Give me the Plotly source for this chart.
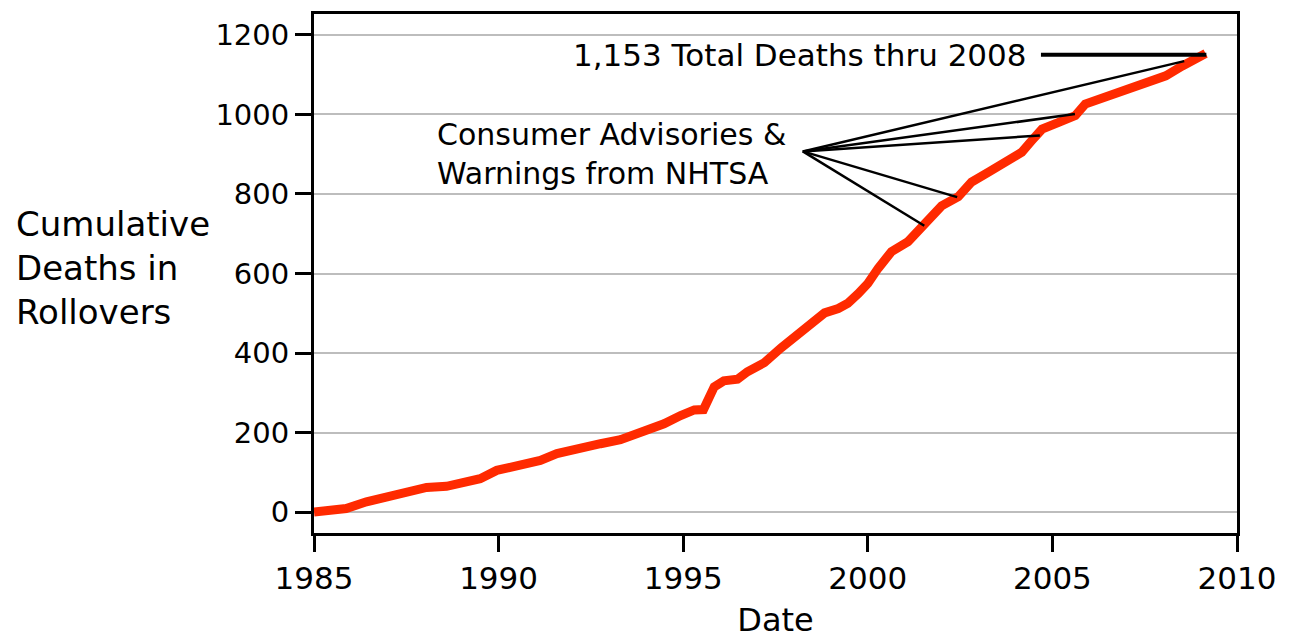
import plotly.graph_objects as go

# Cumulative deaths (decimal year, cumulative count)
years = [1985.0, 1985.4, 1985.87, 1986.42, 1986.96, 1987.69, 1988.05, 1988.59, 1989.14,
         1989.5, 1989.95, 1990.58, 1991.13, 1991.58, 1992.21, 1992.76, 1993.3, 1993.66,
         1994.03, 1994.48, 1994.93, 1995.3, 1995.55, 1995.7, 1995.84, 1996.1, 1996.47,
         1996.74, 1997.2, 1997.65, 1998.1, 1998.55, 1998.83, 1999.2, 1999.46, 1999.75,
         2000.0, 2000.28, 2000.64, 2001.09, 2001.54, 2002.0, 2002.45, 2002.81, 2003.27,
         2003.72, 2004.17, 2004.44, 2004.72, 2005.17, 2005.62, 2005.89, 2006.26, 2006.71,
         2007.16, 2007.61, 2008.07, 2008.52, 2008.97, 2009.15]
deaths = [0, 3, 9, 26, 38, 51, 62, 65, 80,
          84, 105, 117, 130, 147, 163, 172, 182, 193,
          209, 222, 243, 257, 258, 285, 315, 330, 334,
          353, 376, 413, 447, 480, 501, 512, 525, 550,
          575, 613, 655, 680, 724, 770, 793, 830, 855,
          880, 905, 934, 963, 980, 997, 1026, 1038, 1047,
          1063, 1080, 1097, 1122, 1143, 1153]

# NHTSA consumer advisories / warnings (date, cumulative deaths at that date)
advisory_years = [2001.53, 2002.42, 2004.66, 2005.61, 2008.57]
advisory_values = [720, 792, 947, 1001, 1134]
hub_year, hub_value = 1998.24, 907

total_label = "1,153 Total Deaths thru 2008"
total_line_years = [2004.69, 2009.17]
total_line_values = [1150, 1150]

x_ticks = [1985, 1990, 1995, 2000, 2005, 2010]
y_ticks = [0, 200, 400, 600, 800, 1000, 1200]

FONT = "DejaVu Sans"

fig = go.Figure()

fig.add_trace(go.Scatter(
    x=years, y=deaths, mode="lines",
    line=dict(color="#ff2a00", width=9),
    hoverinfo="skip", showlegend=False,
))

lx, ly = [], []
for ax_, ay_ in zip(advisory_years, advisory_values):
    lx += [hub_year, ax_, None]
    ly += [hub_value, ay_, None]
fig.add_trace(go.Scatter(
    x=lx, y=ly, mode="lines",
    line=dict(color="black", width=2.5),
    hoverinfo="skip", showlegend=False,
))
fig.add_trace(go.Scatter(
    x=total_line_years, y=total_line_values, mode="lines",
    line=dict(color="black", width=4),
    hoverinfo="skip", showlegend=False,
))

fig.add_annotation(
    x=2004.36, y=1150, xref="x", yref="y", text=total_label,
    showarrow=False, xanchor="right", yanchor="middle",
    font=dict(family=FONT, size=31, color="black"),
)
fig.add_annotation(
    x=1988.27, y=900, xref="x", yref="y",
    text="Consumer Advisories &<br>Warnings from NHTSA",
    showarrow=False, xanchor="left", yanchor="middle", align="left",
    font=dict(family=FONT, size=30, color="black"),
)
fig.add_annotation(
    x=-0.325, y=0.51, xref="paper", yref="paper",
    text="Cumulative<br>Deaths in<br>Rollovers",
    showarrow=False, xanchor="left", yanchor="middle", align="left",
    font=dict(family=FONT, size=34, color="black"),
)

fig.update_layout(
    width=1293, height=639,
    margin=dict(l=306, r=64, t=3, b=114),
    paper_bgcolor="white", plot_bgcolor="white",
    font=dict(family=FONT, color="black"),
)
fig.update_xaxes(
    range=[1985, 2010], tickvals=x_ticks, ticktext=[str(t) for t in x_ticks],
    showgrid=False, zeroline=False,
    showline=True, linecolor="black", linewidth=3, mirror=True,
    ticks="outside", ticklen=16, tickwidth=3, tickcolor="black",
    tickfont=dict(family=FONT, size=31),
    title=dict(text="Date", font=dict(family=FONT, size=32), standoff=14),
)
fig.update_yaxes(
    range=[-52.5, 1252.5], tickvals=y_ticks,
    showgrid=True, gridcolor="#bdbdbd", gridwidth=2, zeroline=False,
    showline=True, linecolor="black", linewidth=3, mirror=True,
    ticks="outside", ticklen=16, tickwidth=3, tickcolor="black",
    tickfont=dict(family=FONT, size=29),
)

fig.write_html("out.html")
